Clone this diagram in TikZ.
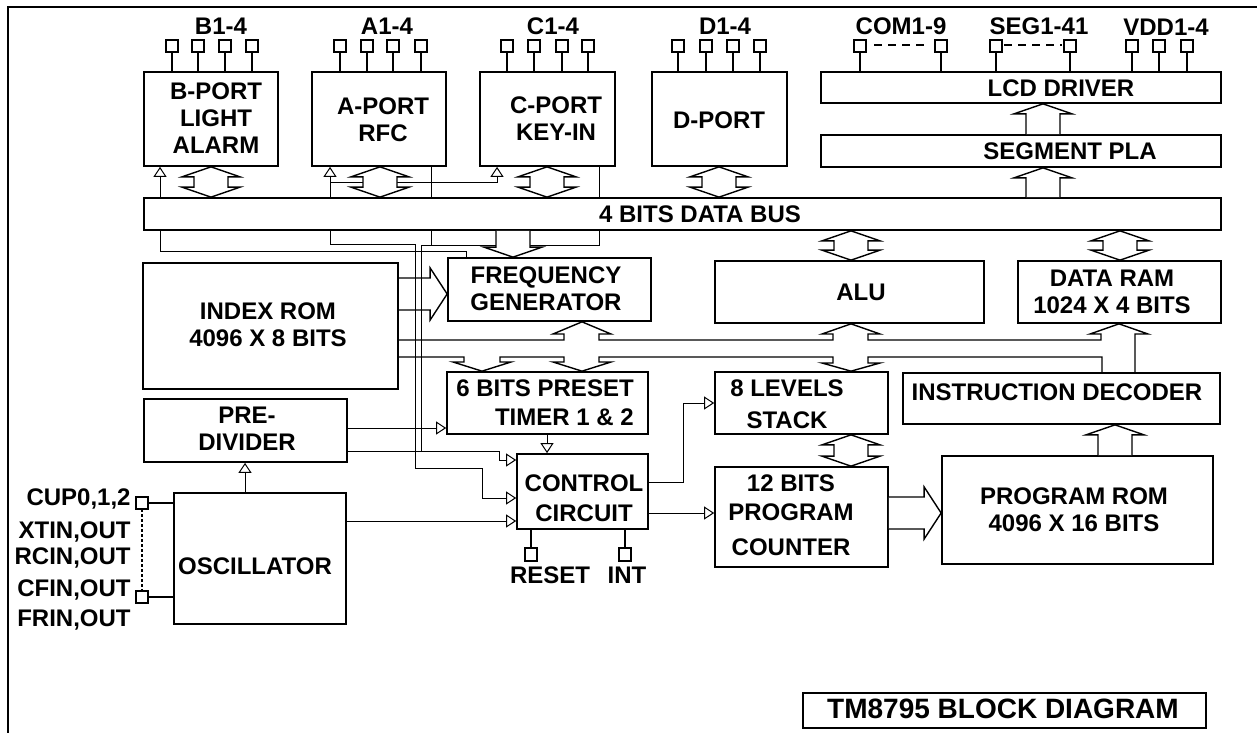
\documentclass[tikz,border=0pt]{standalone}
\usepackage{fontspec}
\setmainfont{Liberation Sans}
\usetikzlibrary{arrows.meta,calc}
\pgfdeclarelayer{bg}
\pgfsetlayers{bg,main}
\tikzset{
  blk/.style={draw,fill=white,line width=0.85pt,inner sep=0pt},
  txt/.style={font=\fontsize{12}{13.5}\selectfont\bfseries,align=center,inner sep=0pt},
  lbl/.style={txt,text height=8.6pt,text depth=0pt},
  wire/.style={line width=0.5pt},
  tri/.style={wire,-{Triangle[open,length=5pt,width=6.5pt]}},
  fat/.style={line width=0.7pt,fill=white,line join=miter},
  busline/.style={line width=0.7pt},
  pin/.style={line width=0.6pt}
}
% hollow bus arrows, sizes in pixels of the drawing
\newcommand\biarrow[3]{%
  \path (#1,0 |- #2) coordinate (ba-t) (#1,0 |- #3) coordinate (ba-b);
  \draw[fat] (ba-t) -- ++(29,10) -- ++(-12,0) -- ($(ba-b)+(17,-10)$) -- ++(12,0)
    -- (ba-b) -- ++(-29,-10) -- ++(12,0) -- ($(ba-t)+(-17,10)$) -- ++(-12,0) -- cycle;}
\newcommand\fatup[3]{%
  \path (#1,0 |- #2) coordinate (fa-t) (#1,0 |- #3) coordinate (fa-b);
  \draw[fat] ($(fa-b)+(-17,0)$) -- ($(fa-t)+(-17,10)$) -- ++(-12,0) -- (fa-t)
    -- ++(29,10) -- ++(-12,0) -- ($(fa-b)+(17,0)$);}
\newcommand\fatdown[3]{%
  \path (#1,0 |- #2) coordinate (fa-t) (#1,0 |- #3) coordinate (fa-b);
  \draw[fat] ($(fa-b)+(-17,0)$) -- ($(fa-t)+(-17,-10)$) -- ++(-12,0) -- (fa-t)
    -- ++(29,-10) -- ++(-12,0) -- ($(fa-b)+(17,0)$);}
\newcommand\fatright[4]{%
  \path (#2 |- 0,#1) coordinate (fa-t) (#3 |- 0,#1) coordinate (fa-b);
  \draw[fat,#4] ($(fa-b)+(0,-16)$) -- ($(fa-t)+(-17,-16)$) -- ++(0,-10) -- (fa-t)
    -- ++(-17,26) -- ++(0,-10) -- ($(fa-b)+(0,16)$);}

\begin{document}
\begin{tikzpicture}[x=0.5pt,y=-0.5pt]
 \useasboundingbox (0,0) rectangle (1257,733);
 \draw[line width=1pt] (1257,7) -- (8,7) -- (8,733);

 % ports and LCD side
 \node[blk,minimum width=67pt,minimum height=47pt] (bport) at (211,119) {};
 \node[blk,minimum width=67pt,minimum height=47pt] (aport) at (379,119) {};
 \node[blk,minimum width=67.5pt,minimum height=47pt] (cport) at (547.5,119) {};
 \node[blk,minimum width=67.5pt,minimum height=47pt] (dport) at (719.5,119) {};
 \node[blk,minimum width=200pt,minimum height=15.5pt] (lcd) at (1021,87.5) {};
 \node[blk,minimum width=200pt,minimum height=16pt] (pla) at (1021,151) {};
 \node[blk,minimum width=538.5pt,minimum height=16pt] (bus) at (682.5,214) {};

 % middle row
 \node[blk,minimum width=127.5pt,minimum height=63pt] (index) at (270.5,326) {};
 \node[blk,minimum width=101.5pt,minimum height=31.5pt] (freq) at (549.5,289.5) {};
 \node[blk,minimum width=134.5pt,minimum height=31pt] (alu) at (849.5,292) {};
 \node[blk,minimum width=101.5pt,minimum height=31pt] (ram) at (1119.5,292) {};

 % lower part
 \node[blk,minimum width=101.5pt,minimum height=31.5pt] (predv) at (245.5,430.5) {};
 \node[blk,minimum width=100.5pt,minimum height=31pt] (timer) at (547.5,403) {};
 \node[blk,minimum width=86.5pt,minimum height=31pt] (stack) at (801.5,403) {};
 \node[blk,minimum width=158.5pt,minimum height=25.5pt] (id) at (1061.5,398.5) {};
 \node[blk,minimum width=65.5pt,minimum height=37.5pt] (ctrl) at (582.5,491.5) {};
 \node[blk,minimum width=86.5pt,minimum height=50pt] (pc) at (801.5,517) {};
 \node[blk,minimum width=135.5pt,minimum height=54pt] (prom) at (1077.5,510) {};
 \node[blk,minimum width=86pt,minimum height=65.5pt] (osc) at (260,558.5) {};
 \node[blk,minimum width=201.5pt,minimum height=17.5pt] (title) at (1004.5,710.5) {};

 % block texts
 \node[txt] (bportT) at (216,118) {B-PORT\\LIGHT\\ALARM};
 \node[txt] (aportT) at (383,120) {A-PORT\\RFC};
 \node[txt] (cportT) at (556,119) {C-PORT\\KEY-IN};
 \node[lbl] (dportT) at (719,120) {D-PORT};
 \node[lbl] (lcdT) at (1061,88) {LCD DRIVER};
 \node[lbl] (plaT) at (1070,151) {SEGMENT PLA};
 \node[lbl] (busT) at (700,214) {4 BITS DATA BUS};
 \node[txt] (indexT) at (268,325) {INDEX ROM\\4096 X 8 BITS};
 \node[txt] (freqT) at (546,289) {FREQUENCY\\GENERATOR};
 \node[lbl] (aluT) at (861,292) {ALU};
 \node[txt] (ramT) at (1112,292) {DATA RAM\\1024 X 4 BITS};
 \node[txt] (predvT) at (247,428.5) {PRE-\\DIVIDER};
 \node[txt,align=right] (timerT) at (545,402.5) {6 BITS PRESET\\[1pt]TIMER 1 \& 2};
 \node[txt] (stackT) at (787,404) {8 LEVELS\\[2.5pt]STACK};
 \node[txt] (ctrlT) at (584,498) {CONTROL\\[1.5pt]CIRCUIT};
 \node[txt] (pcT) at (791,515) {12 BITS\\[1pt]PROGRAM\\[4pt]COUNTER};
 \node[lbl] (idT) at (1057,392) {INSTRUCTION DECODER};
 \node[txt] (promT) at (1074,510) {PROGRAM ROM\\4096 X 16 BITS};
 \node[lbl] (oscT) at (255,566) {OSCILLATOR};
 \node[lbl,font=\fontsize{14}{16}\selectfont\bfseries,text height=10pt] (titleT) at (1003,708) {TM8795 BLOCK DIAGRAM};

 % pins
 \foreach \n/\xs in {bport/{172,198,225,252},aport/{340,367,393,421},cport/{507,534,562,588},
   dport/{678,706,733,760},lcd/{860,941,996,1070,1132,1159,1187}}
   \foreach \x in \xs \draw[pin] (\x,0 |- \n.north) -- (\x,52) +(-6,0) rectangle +(6,-12);
 \draw[pin,dash pattern=on 4pt off 3pt] (874,45) -- (927,45);
 \draw[pin,dash pattern=on 4pt off 3pt] (1004,45) -- (1062,45);
 \foreach \y in {503,597}
   \draw[pin] (osc.west |- 0,\y) -- (148,\y) +(0,-6) rectangle +(-12,6);
 \draw[pin,dash pattern=on 1.5pt off 1pt] (142,509) -- (142,591);
 \foreach \x in {531,625}
   \draw[pin] (\x,0 |- ctrl.south) -- (\x,548) +(-6,0) rectangle +(6,13);

 \node[lbl] (b14) at (221,26) {B1-4};
 \node[lbl] (a14) at (387,26) {A1-4};
 \node[lbl] (c14) at (553,26) {C1-4};
 \node[lbl] (d14) at (725,26) {D1-4};
 \node[lbl] (com) at (901,26) {COM1-9};
 \node[lbl] (seg) at (1039,26) {SEG1-41};
 \node[lbl] (vdd) at (1166,27) {VDD1-4};
 \node[lbl] (reset) at (550,575) {RESET};
 \node[lbl] (int) at (627,575) {INT};
 \foreach \t/\y in {{CUP0,1,2}/497,{XTIN,OUT}/530,{RCIN,OUT}/556,{CFIN,OUT}/588,{FRIN,OUT}/618}
   \node[lbl,anchor=east] at (131,\y) {\t};

 % single wires, kept behind the blocks
 \begin{pgfonlayer}{bg}
  \draw[tri] (466,0 |- freq.north) |- (160,251) -- (160,0 |- bport.south);
  \draw[tri] (415,244) -- (330,244) -- (330,0 |- aport.south);
  \draw[tri] (330,182) -| (497,0 |- cport.south);
  \draw[tri] (415,244) |- (482,468) -- (482,498) -- (ctrl.west |- 0,498);
  \draw[wire] (431,0 |- aport.south) -- (431,245);
  \draw[wire] (421,451) |- (497,245);
  \draw[wire] (599,0 |- cport.south) |- (530,245);
  \draw[tri] (predv.east |- 0,428) -- (timer.west |- 0,428);
  \draw[tri] (predv.east |- 0,451) -| (499,460) -- (ctrl.west |- 0,460);
  \draw[tri] (osc.east |- 0,521) -- (ctrl.west |- 0,521);
  \draw[tri] (245,0 |- osc.north) -- (245,0 |- predv.south);
  \draw[tri] (547,0 |- timer.south) -- (547,0 |- ctrl.north);
  \draw[tri] (ctrl.east |- 0,482) -| (683,403) -- (stack.west |- 0,403);
  \draw[tri] (ctrl.east |- 0,513) -- (pc.west |- 0,513);
 \end{pgfonlayer}

 % hollow arrows on the data bus
 \biarrow{211}{bport.south}{bus.north}
 \biarrow{380}{aport.south}{bus.north}
 \biarrow{547}{cport.south}{bus.north}
 \biarrow{719}{dport.south}{bus.north}
 \biarrow{851}{bus.south}{alu.north}
 \biarrow{1120}{bus.south}{ram.north}
 \biarrow{851}{stack.south}{pc.north}
 \fatup{1043}{lcd.south}{pla.north}
 \fatup{1043}{pla.south}{bus.north}
 \fatup{1115}{id.south}{prom.north}
 \fatdown{513}{freq.north}{bus.south}
 \fatright{294}{freq.west}{index.east}{fill=none}
 \fatright{513}{prom.west}{pc.east}{}

 % internal bus from the instruction decoder
 \draw[busline] (index.east |- 0,340) -- (564,340) -- (564,334) -- (553,334) -- (582,0 |- freq.south)
   -- (611,334) -- (599,334) -- (599,340) -- (833,340) -- (833,334) -- (822,334) -- (851,0 |- alu.south)
   -- (880,334) -- (868,334) -- (868,340) -- (1101,340) -- (1101,334) -- (1090,334) -- (1119,0 |- ram.south)
   -- (1148,334) -- (1135,334) -- (1135,0 |- id.north);
 \draw[busline] (index.east |- 0,357) -- (464,357) -- (464,362) -- (453,362) -- (482,0 |- timer.north)
   -- (511,362) -- (500,362) -- (500,357) -- (564,357) -- (564,362) -- (553,362) -- (582,0 |- timer.north)
   -- (611,362) -- (599,362) -- (599,357) -- (833,357) -- (833,363) -- (822,363) -- (851,0 |- stack.north)
   -- (880,363) -- (868,363) -- (868,357) -- (1102,357) -- (1102,0 |- id.north);
\end{tikzpicture}
\end{document}
